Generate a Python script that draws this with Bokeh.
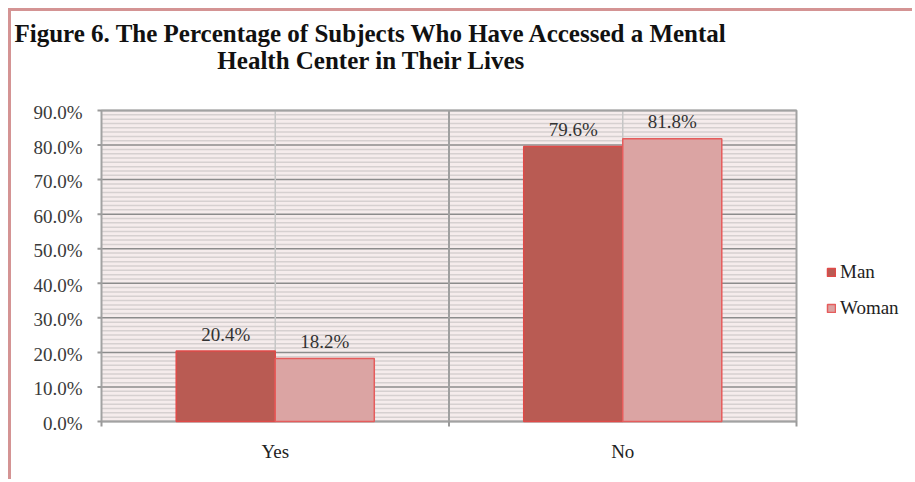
import numpy as np
from bokeh.plotting import figure
from bokeh.models import (ColumnDataSource, Label, Legend, LegendItem, Range1d)
from bokeh.transform import dodge
from bokeh.embed import file_html
from bokeh.resources import INLINE

# ---- data ----
categories = ["Yes", "No"]
man = [20.4, 79.6]
woman = [18.2, 81.8]
y_ticks = [0, 10, 20, 30, 40, 50, 60, 70, 80, 90]
y_tick_labels = ["0.0%", "10.0%", "20.0%", "30.0%", "40.0%", "50.0%", "60.0%", "70.0%", "80.0%", "90.0%"]
title_line1 = "Figure 6. The Percentage of Subjects Who Have Accessed a Mental"
title_line2 = "Health Center in Their Lives"
series_names = ["Man", "Woman"]

# ---- layout (canvas pixels) ----
W, H = 904, 471
CL, CR, CT, CB = 90, 785, 99, 410          # chart (plot-area) box inside the canvas
Y_MAX = 90
n = len(categories)
sx = (CR - CL) / n                          # px per category
sy = (CB - CT) / Y_MAX                      # px per percent

SERIF = "Liberation Serif"
centers = [i + 0.5 for i in range(n)]
src = ColumnDataSource(dict(
    xc=centers, man=man, woman=woman,
    man_lbl=["%.1f%%" % v for v in man],
    woman_lbl=["%.1f%%" % v for v in woman],
))

p = figure(width=W, height=H, output_backend="svg", toolbar_location=None,
           x_axis_location=None, y_axis_location=None,
           x_range=Range1d(-CL / sx, (W - CL) / sx),
           y_range=Range1d(-(H - CB) / sy, CB / sy),
           min_border=0)
p.styles = {"border-left": "3px solid #d49494", "border-top": "3px solid #d49494",
            "margin-left": "8px", "margin-top": "8px"}
p.outline_line_color = None
p.background_fill_color = "white"
p.grid.visible = False

# plot-area background and grid
p.quad(left=0, right=n, bottom=0, top=Y_MAX, fill_color="#f5ecec", line_color=None)
minor = [v for v in np.arange(0, Y_MAX, 1.25) if v % 10 != 0]
p.segment(x0=0, x1=n, y0=minor, y1=minor, line_color="#d6d0d0", line_width=1.5)
p.segment(x0=0, x1=n, y0=y_ticks, y1=y_ticks, line_color="#8c8c8c", line_width=1.5)
p.segment(x0=centers, x1=centers, y0=0, y1=Y_MAX, line_color="#c6c6c6", line_width=1.5)
bounds = list(range(n + 1))
p.segment(x0=bounds[1:-1], x1=bounds[1:-1], y0=0, y1=Y_MAX, line_color="#a0a0a0", line_width=2)
p.quad(left=0, right=n, bottom=0, top=Y_MAX, fill_color=None, line_color="#a2a2a2", line_width=2)

# y axis ticks and labels
p.segment(x0=0, x1=-4 / sx, y0=y_ticks, y1=y_ticks, line_color="#9a9a9a", line_width=2)
p.text(x=0, y=y_ticks, text=y_tick_labels, text_align="right", text_baseline="middle",
       x_offset=-19, y_offset=2, text_font=SERIF, text_font_size="19px", text_color="#3a3a3a")
# x axis ticks and labels
p.segment(x0=bounds, x1=bounds, y0=0, y1=-5 / sy, line_color="#9a9a9a", line_width=2)
p.text(x=centers, y=0, text=categories, text_align="center", text_baseline="alphabetic",
       y_offset=30, text_font=SERIF, text_font_size="19px", text_color="#222222")

# bars
bw = 0.285
r_man = p.vbar(x=dodge("xc", -bw / 2), top="man", width=bw, source=src,
               fill_color="#b95b53", line_color="#e04a48", line_width=1.5)
r_wom = p.vbar(x=dodge("xc", bw / 2), top="woman", width=bw, source=src,
               fill_color="#dba4a3", line_color="#e65c5c", line_width=1.5)

for col, lbl, off in (("man", "man_lbl", -bw / 2), ("woman", "woman_lbl", bw / 2)):
    p.text(x=dodge("xc", off), y=col, text=lbl, source=src, text_align="center",
           text_baseline="alphabetic", y_offset=-17, text_font_size="19px",
           text_font=SERIF, text_color="#333333")

# legend
legend = Legend(items=[LegendItem(label=series_names[0], renderers=[r_man]),
                       LegendItem(label=series_names[1], renderers=[r_wom])],
                location=(815, 163), orientation="vertical")
legend.background_fill_alpha = 0
legend.border_line_color = None
legend.padding = 0
legend.margin = 0
legend.spacing = 14
legend.glyph_width = 10
legend.glyph_height = 10
legend.label_standoff = 4
legend.label_height = 22
legend.label_text_font = SERIF
legend.label_text_font_size = "19px"
legend.label_text_color = "#222222"
legend.label_text_baseline = "middle"
p.add_layout(legend, "center")

# title (two lines, second centred under the first)
p.add_layout(Label(x=3, y=H - 22, x_units="screen", y_units="screen", text=title_line1,
                   text_align="left", text_baseline="alphabetic", text_font=SERIF,
                   text_font_size="25px", text_font_style="bold", text_color="#111111"))
p.add_layout(Label(x=360, y=H - 49, x_units="screen", y_units="screen", text=title_line2,
                   text_align="center", text_baseline="alphabetic", text_font=SERIF,
                   text_font_size="25px", text_font_style="bold", text_color="#111111"))

open("out.html", "w").write(file_html(p, INLINE))
